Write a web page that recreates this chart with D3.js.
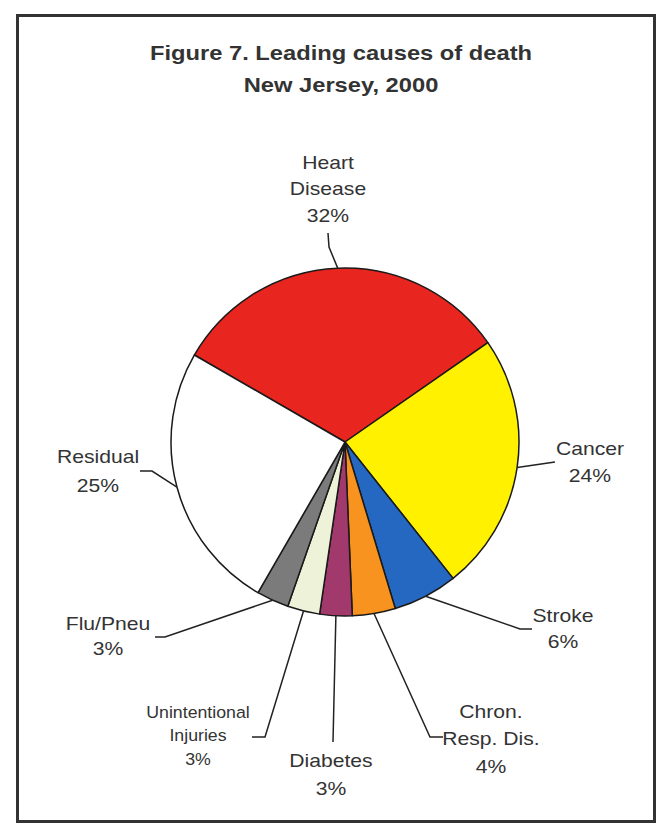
<!DOCTYPE html>
<html>
<head>
<meta charset="utf-8">
<script src="https://cdn.jsdelivr.net/npm/d3@7"></script>
<style>
  html, body { margin: 0; padding: 0; background: #fff; }
  svg { display: block; }
  text { font-family: "Liberation Sans", Arial, Helvetica, sans-serif; fill: #333; }
</style>
</head>
<body>
<svg id="chart" width="656" height="825"></svg>
<script>
// ---- data ----
const titleLines = ["Figure 7. Leading causes of death", "New Jersey, 2000"];
const categories = ["Heart Disease", "Cancer", "Stroke", "Chron. Resp. Dis.", "Diabetes", "Unintentional Injuries", "Flu/Pneu", "Residual"];
const labelLines = [["Heart", "Disease"], ["Cancer"], ["Stroke"], ["Chron.", "Resp. Dis."], ["Diabetes"], ["Unintentional", "Injuries"], ["Flu/Pneu"], ["Residual"]];
const values = [32, 24, 6, 4, 3, 3, 3, 25];
const colors = ["#e8251e", "#fff100", "#2468c2", "#f7931e", "#a1396c", "#eef2d8", "#7b7b7b", "#ffffff"];

// ---- layout ----
const W = 656, H = 825;
const cx = 345, cy = 442, R = 174;
const sx = 1.13; // horizontal text stretch of the scan
const svg = d3.select("#chart");

svg.append("rect").attr("x", 0).attr("y", 0).attr("width", W).attr("height", H).attr("fill", "#fff");
svg.append("rect").attr("x", 17.5).attr("y", 15.5).attr("width", 637).attr("height", 806)
  .attr("fill", "none").attr("stroke", "#333").attr("stroke-width", 3);

function textBlock(x, y, lines, size, lh, weight) {
  const g = svg.append("g").attr("transform", `translate(${x},${y}) scale(${sx},1)`);
  lines.forEach((t, i) => {
    g.append("text").attr("x", 0).attr("y", i * lh).attr("text-anchor", "middle")
      .attr("font-size", size).attr("font-weight", weight || "normal").text(t);
  });
}

textBlock(341, 60, titleLines, 21, 32, "bold");

const pie = d3.pie().sort(null).value(d => d).startAngle(-Math.PI / 3).endAngle(-Math.PI / 3 + 2 * Math.PI);
const arcs = pie(values);
const arc = d3.arc().innerRadius(0).outerRadius(R);

const pg = svg.append("g").attr("transform", `translate(${cx},${cy})`);
pg.selectAll("path").data(arcs).enter().append("path")
  .attr("d", arc).attr("fill", (d, i) => colors[i])
  .attr("stroke", "#1a1a1a").attr("stroke-width", 1.5).attr("stroke-linejoin", "round");

// label placements (text centre + first baseline, leader elbow points)
const place = [
  { tx: 328, ty: 169, lh: 26.5, fs: 18.7, pts: [[329, 247], [328, 233]] },
  { tx: 590, ty: 455, lh: 27, fs: 18.7, pts: [[555, 462]] },
  { tx: 563, ty: 622, lh: 26, fs: 18.7, pts: [[520, 629], [532, 629]] },
  { tx: 491, ty: 718, lh: 27.5, fs: 18.7, pts: [[430, 737], [443, 737]] },
  { tx: 331, ty: 767, lh: 28, fs: 18.7, pts: [[333, 742]] },
  { tx: 198, ty: 718, lh: 23.5, fs: 15.7, pts: [[265, 737], [252, 737]] },
  { tx: 108, ty: 630, lh: 25, fs: 18.7, pts: [[165, 637], [155, 637]] },
  { tx: 98, ty: 463, lh: 29, fs: 18.7, pts: [[152, 471], [140, 471]] }
];

const line = d3.line();
arcs.forEach((a, i) => {
  const m = (a.startAngle + a.endAngle) / 2;
  const start = [cx + R * Math.sin(m), cy - R * Math.cos(m)];
  svg.append("path").attr("d", line([start].concat(place[i].pts)))
    .attr("fill", "none").attr("stroke", "#222").attr("stroke-width", 1.5);
  const p = place[i];
  textBlock(p.tx, p.ty, labelLines[i].concat([values[i] + "%"]), p.fs, p.lh);
});
</script>
</body>
</html>
